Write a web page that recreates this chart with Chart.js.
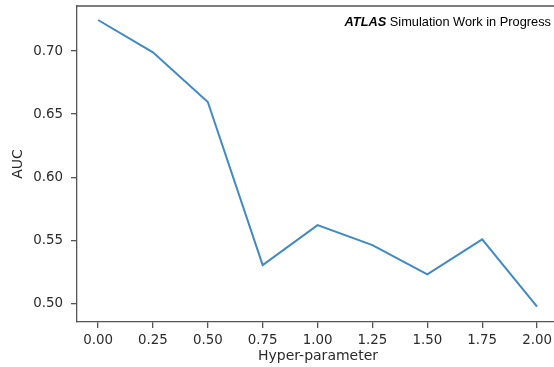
<!DOCTYPE html>
<html>
<head>
<meta charset="utf-8">
<script src="https://cdn.jsdelivr.net/npm/chart.js@4.4.1/dist/chart.umd.min.js"></script>
<style>
  html, body { margin: 0; padding: 0; background: #fff; overflow: hidden; width: 554px; height: 367px; }
  canvas { display: block; }
</style>
</head>
<body>
<canvas id="c" width="562" height="367"></canvas>
<script>
const hyperParams = [0.00, 0.25, 0.50, 0.75, 1.00, 1.25, 1.50, 1.75, 2.00];
const aucValues   = [0.7246, 0.699, 0.6596, 0.5303, 0.562, 0.5462, 0.523, 0.5507, 0.4973];
const xTickValues = [0.00, 0.25, 0.50, 0.75, 1.00, 1.25, 1.50, 1.75, 2.00];
const xTickLabels = ['0.00', '0.25', '0.50', '0.75', '1.00', '1.25', '1.50', '1.75', '2.00'];
const yTickValues = [0.50, 0.55, 0.60, 0.65, 0.70];
const yTickLabels = ['0.50', '0.55', '0.60', '0.65', '0.70'];
const xTitle = 'Hyper-parameter';
const yTitle = 'AUC';
const annotationBold = 'ATLAS';
const annotationRest = ' Simulation Work in Progress';

const textColor = '#2b2b2b';
const axisColor = '#555555';
const tickFont = { family: 'DejaVu Sans', size: 13.4 };
const titleFont = { family: 'DejaVu Sans', size: 14 };

const frameAndLabel = {
  id: 'frameAndLabel',
  afterDraw(chart) {
    const ctx = chart.ctx;
    const a = chart.chartArea;
    ctx.save();
    ctx.strokeStyle = axisColor;
    ctx.lineWidth = 1.3;
    ctx.beginPath();
    ctx.moveTo(a.left, a.top);
    ctx.lineTo(a.right + 2, a.top);
    ctx.stroke();
    ctx.fillStyle = '#000';
    ctx.textBaseline = 'alphabetic';
    ctx.textAlign = 'left';
    const boldFont = 'italic bold 12.8px "Liberation Sans", Arial, sans-serif';
    const normFont = '12.8px "Liberation Sans", Arial, sans-serif';
    ctx.font = normFont;
    const wRest = ctx.measureText(annotationRest).width;
    ctx.font = boldFont;
    const wBold = ctx.measureText(annotationBold).width;
    const xRight = 551;
    const y = 26;
    const x0 = xRight - wRest - wBold;
    ctx.fillText(annotationBold, x0, y);
    ctx.font = normFont;
    ctx.fillText(annotationRest, x0 + wBold, y);
    ctx.restore();
  }
};

new Chart(document.getElementById('c'), {
  type: 'line',
  data: {
    datasets: [{
      data: hyperParams.map((x, i) => ({ x: x, y: aucValues[i] })),
      borderColor: '#4189c4',
      borderWidth: 2,
      pointRadius: 0,
      tension: 0,
      fill: false
    }]
  },
  options: {
    responsive: false,
    animation: false,
    devicePixelRatio: 1,
    layout: { padding: { left: 0, top: 6, right: 3, bottom: 0 } },
    plugins: { legend: { display: false }, tooltip: { enabled: false } },
    scales: {
      x: {
        type: 'linear',
        min: -0.096,
        max: 2.1,
        afterBuildTicks: s => { s.ticks = xTickValues.map(v => ({ value: v })); },
        afterFit: s => { s.height = 45; s.paddingLeft = 0; s.paddingRight = 0; },
        ticks: {
          autoSkip: false,
          maxRotation: 0,
          color: textColor,
          font: tickFont,
          padding: 4,
          callback: (v) => { const i = xTickValues.indexOf(v); return i >= 0 ? xTickLabels[i] : ''; }
        },
        grid: { display: true, drawOnChartArea: false, drawTicks: true, tickLength: 6, color: axisColor, lineWidth: 1.3 },
        border: { display: true, color: axisColor, width: 1.3 },
        title: { display: true, text: xTitle, color: textColor, font: titleFont, padding: { top: 0, bottom: 2 } }
      },
      y: {
        type: 'linear',
        min: 0.4852,
        max: 0.7357,
        afterBuildTicks: s => { s.ticks = yTickValues.map(v => ({ value: v })); },
        afterFit: s => { s.width = 77; s.paddingTop = 0; s.paddingBottom = 0; },
        ticks: {
          autoSkip: false,
          color: textColor,
          font: tickFont,
          padding: 8,
          callback: (v) => { const i = yTickValues.findIndex(t => Math.abs(t - v) < 1e-9); return i >= 0 ? yTickLabels[i] : ''; }
        },
        grid: { display: true, drawOnChartArea: false, drawTicks: true, tickLength: 6, color: axisColor, lineWidth: 1.3 },
        border: { display: true, color: axisColor, width: 1.3 },
        title: { display: true, text: yTitle, color: textColor, font: titleFont, padding: { top: 10, bottom: 0 } }
      }
    }
  },
  plugins: [frameAndLabel]
});
</script>
</body>
</html>
